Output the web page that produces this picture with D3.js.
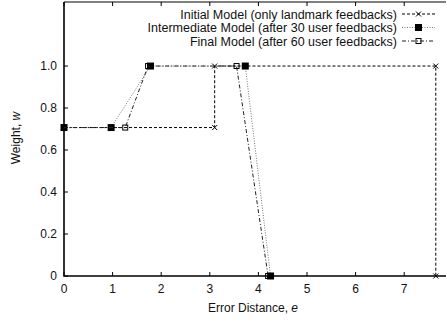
<!DOCTYPE html>
<html>
<head>
<meta charset="utf-8">
<script src="https://cdn.jsdelivr.net/npm/d3@7"></script>
<style>
  body { margin: 0; background: #fff; }
  svg { display: block; font-family: "Liberation Sans", Arial, sans-serif; }
</style>
</head>
<body>
<svg id="chart" width="447" height="323"></svg>
<script>
// series data
const initialX = [0, 3.1, 3.1, 7.65, 7.65];
const initialY = [0.707, 0.707, 1.0, 1.0, 0];
const interX = [0, 0.97, 1.78, 3.73, 4.25];
const interY = [0.707, 0.707, 1.0, 1.0, 0];
const finalX = [0, 1.26, 1.73, 3.55, 4.2];
const finalY = [0.707, 0.707, 1.0, 1.0, 0];
const seriesNames = [
  "Initial Model (only landmark feedbacks)",
  "Intermediate Model (after 30 user feedbacks)",
  "Final Model (after 60 user feedbacks)"
];
const xTicks = [0, 1, 2, 3, 4, 5, 6, 7];
const yTicks = [0, 0.2, 0.4, 0.6, 0.8, 1.0];
const yTickLabels = ["0", "0.2", "0.4", "0.6", "0.8", "1.0"];

const pLeft = 64, pRight = 446, pTop = 2, pBottom = 276;
const svg = d3.select("#chart");

const x = d3.scaleLinear().domain([0, 7.86]).range([pLeft, pRight]);
const y = d3.scaleLinear().domain([0, 1.305]).range([pBottom, pTop]);

// ticks (inward, mirrored on top)
const g = svg.append("g");
g.selectAll("line.xt").data(xTicks).join("line")
  .attr("class", "xt")
  .attr("x1", d => x(d)).attr("x2", d => x(d))
  .attr("y1", pBottom).attr("y2", pBottom - 4)
  .attr("stroke", "#000");
g.selectAll("line.xtt").data(xTicks).join("line")
  .attr("class", "xtt")
  .attr("x1", d => x(d)).attr("x2", d => x(d))
  .attr("y1", pTop).attr("y2", pTop + 4)
  .attr("stroke", "#000");
g.selectAll("line.yt").data(yTicks).join("line")
  .attr("class", "yt")
  .attr("x1", pLeft).attr("x2", pLeft + 4)
  .attr("y1", d => y(d)).attr("y2", d => y(d))
  .attr("stroke", "#000");

g.selectAll("text.xl").data(xTicks).join("text")
  .attr("class", "xl")
  .attr("x", d => x(d)).attr("y", 293)
  .attr("text-anchor", "middle").attr("font-size", 12).attr("fill", "#111")
  .text(d => d);
g.selectAll("text.yl").data(yTicks).join("text")
  .attr("class", "yl")
  .attr("x", 57).attr("y", d => y(d) + 4)
  .attr("text-anchor", "end").attr("font-size", 12).attr("fill", "#111")
  .text((d, i) => yTickLabels[i]);

// border: heavier left/bottom, thin top (right edge is cropped off)
svg.append("path")
  .attr("d", `M${pLeft},${pTop}V${pBottom}H${pRight}`)
  .attr("fill", "none").attr("stroke", "#000").attr("stroke-width", 1.6);
svg.append("path")
  .attr("d", `M${pLeft},${pTop}H${pRight}`)
  .attr("fill", "none").attr("stroke", "#000").attr("stroke-width", 1);

// axis titles
const xt = svg.append("text").attr("x", 253).attr("y", 312)
  .attr("text-anchor", "middle").attr("font-size", 12).attr("fill", "#111");
xt.append("tspan").text("Error Distance, ");
xt.append("tspan").attr("font-style", "italic").text("e");
const yt = svg.append("text")
  .attr("transform", "translate(20,138) rotate(-90)")
  .attr("text-anchor", "middle").attr("font-size", 12).attr("fill", "#111");
yt.append("tspan").text("Weight, ");
yt.append("tspan").attr("font-style", "italic").text("w");

const series = [
  { xs: initialX, ys: initialY, stroke: "#000", dash: "3,2", marker: "cross" },
  { xs: interX, ys: interY, stroke: "#777", dash: "1,1.5", marker: "filled" },
  { xs: finalX, ys: finalY, stroke: "#222", dash: "4,2,1,2", marker: "open" }
];

const line = d3.line().x(d => x(d[0])).y(d => y(d[1]));

function drawMarker(sel, kind, px, py) {
  if (kind === "cross") {
    sel.append("path")
      .attr("d", `M${px - 2.5},${py - 2.5}L${px + 2.5},${py + 2.5}M${px - 2.5},${py + 2.5}L${px + 2.5},${py - 2.5}`)
      .attr("stroke", "#000").attr("stroke-width", 1);
  } else if (kind === "filled") {
    sel.append("rect").attr("x", px - 3.5).attr("y", py - 3.5)
      .attr("width", 7).attr("height", 7).attr("fill", "#000");
  } else {
    sel.append("rect").attr("x", px - 2.5).attr("y", py - 2.5)
      .attr("width", 5).attr("height", 5).attr("fill", "none")
      .attr("stroke", "#000").attr("stroke-width", 1);
  }
}

series.forEach(s => {
  const pts = s.xs.map((v, i) => [v, s.ys[i]]);
  svg.append("path").datum(pts)
    .attr("d", line)
    .attr("fill", "none").attr("stroke", s.stroke)
    .attr("stroke-width", 1).attr("stroke-dasharray", s.dash);
  const mg = svg.append("g");
  pts.forEach(p => drawMarker(mg, s.marker, x(p[0]), y(p[1])));
});

// legend
const legY = [14, 27.5, 41];
series.forEach((s, i) => {
  svg.append("text").attr("x", 397).attr("y", legY[i] + 4.5)
    .attr("text-anchor", "end").attr("font-size", 12.5).attr("fill", "#111")
    .text(seriesNames[i]);
  svg.append("line").attr("x1", 402).attr("x2", 435)
    .attr("y1", legY[i]).attr("y2", legY[i])
    .attr("stroke", s.stroke).attr("stroke-width", 1)
    .attr("stroke-dasharray", s.dash);
  drawMarker(svg, s.marker, 418.5, legY[i]);
});
</script>
</body>
</html>
